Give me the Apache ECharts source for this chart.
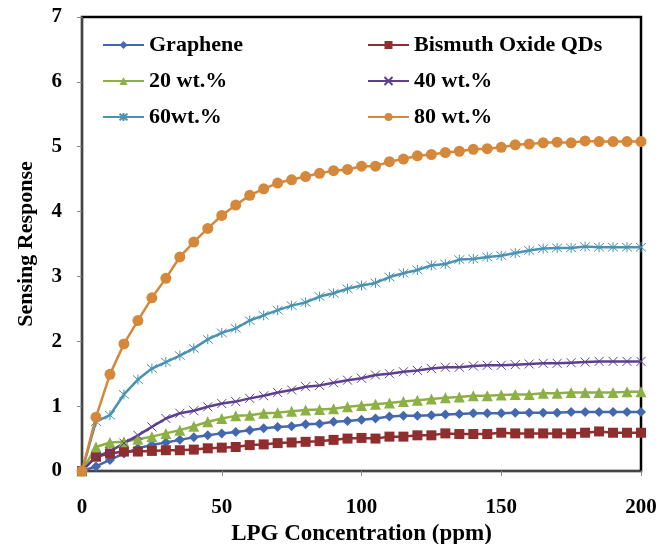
<!DOCTYPE html>
<html>
<head>
<meta charset="utf-8">
<script src="https://cdn.jsdelivr.net/npm/echarts@6/dist/echarts.min.js"></script>
<style>
  html, body { margin: 0; padding: 0; background: #fff; }
  #chart { width: 670px; height: 544px; }
</style>
</head>
<body>
<div id="chart"></div>
<script>
// LPG concentration (ppm), one reading every 5 ppm
const conc = [0, 5, 10, 15, 20, 25, 30, 35, 40, 45, 50, 55, 60, 65, 70, 75, 80, 85, 90, 95, 100,
  105, 110, 115, 120, 125, 130, 135, 140, 145, 150, 155, 160, 165, 170, 175, 180, 185, 190, 195, 200];

const graphene = [0, 0.07, 0.17, 0.27, 0.35, 0.40, 0.44, 0.48, 0.52, 0.55, 0.58, 0.60, 0.63, 0.66, 0.68, 0.69, 0.72, 0.73, 0.76, 0.77, 0.79,
  0.81, 0.84, 0.85, 0.85, 0.86, 0.87, 0.88, 0.89, 0.89, 0.89, 0.90, 0.90, 0.90, 0.90, 0.91, 0.91, 0.91, 0.91, 0.91, 0.91];
const bismuth = [0, 0.22, 0.27, 0.30, 0.30, 0.31, 0.32, 0.32, 0.33, 0.35, 0.36, 0.37, 0.40, 0.41, 0.43, 0.44, 0.45, 0.46, 0.48, 0.50, 0.51,
  0.50, 0.53, 0.53, 0.55, 0.55, 0.58, 0.57, 0.57, 0.57, 0.59, 0.58, 0.58, 0.58, 0.58, 0.58, 0.59, 0.61, 0.59, 0.59, 0.59];
const wt20 = [0, 0.37, 0.44, 0.45, 0.49, 0.53, 0.58, 0.63, 0.69, 0.76, 0.81, 0.85, 0.86, 0.89, 0.90, 0.92, 0.94, 0.95, 0.96, 0.99, 1.01,
  1.03, 1.05, 1.07, 1.09, 1.11, 1.13, 1.14, 1.16, 1.16, 1.17, 1.18, 1.18, 1.20, 1.20, 1.21, 1.21, 1.21, 1.21, 1.22, 1.22];
const wt40 = [0, 0.22, 0.30, 0.43, 0.55, 0.68, 0.81, 0.89, 0.93, 0.99, 1.04, 1.07, 1.12, 1.16, 1.21, 1.25, 1.30, 1.32, 1.36, 1.40, 1.43,
  1.48, 1.50, 1.53, 1.55, 1.58, 1.60, 1.60, 1.62, 1.63, 1.63, 1.64, 1.65, 1.66, 1.66, 1.67, 1.68, 1.69, 1.69, 1.69, 1.69];
const wt60 = [0, 0.76, 0.86, 1.18, 1.41, 1.58, 1.68, 1.78, 1.89, 2.03, 2.13, 2.20, 2.32, 2.40, 2.48, 2.55, 2.60, 2.69, 2.74, 2.81, 2.86,
  2.90, 2.99, 3.05, 3.10, 3.17, 3.19, 3.26, 3.27, 3.30, 3.32, 3.36, 3.40, 3.43, 3.44, 3.44, 3.46, 3.45, 3.45, 3.45, 3.45];
const wt80 = [0, 0.83, 1.49, 1.96, 2.32, 2.67, 2.97, 3.30, 3.53, 3.74, 3.94, 4.10, 4.25, 4.35, 4.44, 4.49, 4.54, 4.59, 4.63, 4.65, 4.70,
  4.70, 4.77, 4.81, 4.86, 4.88, 4.91, 4.93, 4.96, 4.97, 4.99, 5.03, 5.04, 5.06, 5.07, 5.06, 5.09, 5.08, 5.08, 5.08, 5.08];

const FONT = "Liberation Serif";

// x and asterisk markers drawn as stroked paths
const crossPath = "path://M0,0L10,10M10,0L0,10";
const starPath = "path://M0,0L10,10M10,0L0,10M5,-1L5,11";

function makeSeries(name, values, color, symbol, size, stroked) {
  return {
    name: name,
    type: "line",
    data: conc.map((c, i) => [c, values[i]]),
    symbol: symbol,
    symbolSize: size,
    showAllSymbol: true,
    lineStyle: { color: color, width: 2.5 },
    itemStyle: stroked
      ? { color: "rgba(0,0,0,0)", borderColor: color, borderWidth: 1 }
      : { color: color, borderColor: color, borderWidth: 0 },
    z: 2
  };
}

const chart = echarts.init(document.getElementById("chart"), null, { renderer: "canvas" });

const legendText = { fontFamily: FONT, fontWeight: "bold", fontSize: 22, color: "#000" };

chart.setOption({
  animation: false,
  grid: {
    left: 82,
    right: 29,
    top: 17,
    bottom: 73,
    outerBoundsMode: "none",
    show: true,
    borderColor: "#000",
    borderWidth: 2.5
  },
  legend: [
    {
      orient: "vertical",
      left: 97,
      top: 29,
      itemGap: 14,
      itemWidth: 41,
      itemHeight: 10,
      textStyle: legendText,
      data: ["Graphene", "20 wt.%", "60wt.%"]
    },
    {
      orient: "vertical",
      left: 362,
      top: 29,
      itemGap: 14,
      itemWidth: 41,
      itemHeight: 10,
      textStyle: legendText,
      data: ["Bismuth Oxide QDs", "40 wt.%", "80 wt.%"]
    }
  ],
  xAxis: {
    type: "value",
    min: 0,
    max: 200,
    interval: 50,
    name: "LPG Concentration (ppm)",
    nameLocation: "middle",
    nameGap: 50,
    nameTextStyle: { fontFamily: FONT, fontWeight: "bold", fontSize: 23, color: "#000" },
    axisLine: { show: true, lineStyle: { color: "#444", width: 2 } },
    axisTick: { show: true, inside: false, length: 5, lineStyle: { color: "#888" } },
    axisLabel: { fontFamily: FONT, fontWeight: "bold", fontSize: 21, color: "#000", margin: 26 },
    splitLine: { show: false }
  },
  yAxis: {
    type: "value",
    min: 0,
    max: 7,
    interval: 1,
    name: "Sensing Response",
    nameLocation: "middle",
    nameGap: 45,
    nameTextStyle: { fontFamily: FONT, fontWeight: "bold", fontSize: 22, color: "#000" },
    axisLine: { show: true, lineStyle: { color: "#444", width: 2 } },
    axisTick: { show: true, inside: false, length: 5, lineStyle: { color: "#888" } },
    axisLabel: { fontFamily: FONT, fontWeight: "bold", fontSize: 21, color: "#000", margin: 20 },
    splitLine: { show: false }
  },
  series: [
    makeSeries("Graphene", graphene, "#4468AE", "diamond", 10, false),
    makeSeries("Bismuth Oxide QDs", bismuth, "#8E2E2E", "rect", 10, false),
    makeSeries("20 wt.%", wt20, "#8CB043", "triangle", 11, false),
    makeSeries("40 wt.%", wt40, "#5C3F8E", crossPath, 9, true),
    makeSeries("60wt.%", wt60, "#4A92B2", starPath, 10, true),
    makeSeries("80 wt.%", wt80, "#D5883A", "circle", 11, false)
  ]
});
</script>
</body>
</html>
